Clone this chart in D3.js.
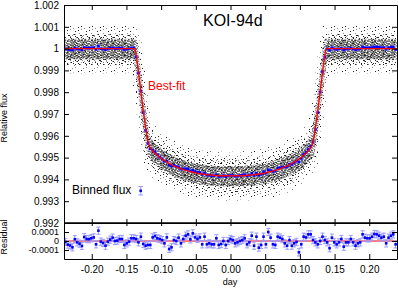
<!DOCTYPE html>
<html>
<head>
<meta charset="utf-8">
<script src="https://cdn.jsdelivr.net/npm/d3@7"></script>
<style>
html, body { margin: 0; padding: 0; background: #fff; }
svg { display: block; font-family: "Liberation Sans", Arial, sans-serif; }
</style>
</head>
<body>
<svg id="chart" width="398" height="292"></svg>
<script>
// best-fit transit model (day, relative flux)
var modelDay = [-0.24, -0.138, -0.136, -0.133, -0.1295, -0.126, -0.1225, -0.119, -0.1155, -0.112,
    -0.105, -0.098, -0.091, -0.084, -0.077, -0.07, -0.063, -0.056, -0.049, -0.042,
    -0.035, -0.028, -0.021, -0.014, -0.007, 0,
    0.007, 0.014, 0.021, 0.028, 0.035, 0.042, 0.049, 0.056, 0.063, 0.07,
    0.077, 0.084, 0.091, 0.098, 0.105, 0.112, 0.1155, 0.119, 0.1225, 0.126,
    0.1295, 0.133, 0.136, 0.138, 0.24];
var modelFlux = [1, 1, 0.9997, 0.9990, 0.9981, 0.9972, 0.9964, 0.9957, 0.99545, 0.9953,
    0.9951, 0.99492, 0.99478, 0.99466, 0.99456, 0.99447, 0.9944, 0.99434, 0.99429, 0.99425,
    0.99422, 0.9942, 0.99418, 0.99417, 0.99417, 0.99416,
    0.99417, 0.99417, 0.99418, 0.9942, 0.99422, 0.99425, 0.99429, 0.99434, 0.9944, 0.99447,
    0.99456, 0.99466, 0.99478, 0.99492, 0.9951, 0.9953, 0.99545, 0.9957, 0.9964, 0.9972,
    0.9981, 0.9990, 0.9997, 1, 1];

// half-width of the raw photometry cloud around the model (dense core, body, sparse edge)
var cloudCore = 0.00045;
var cloudBody = 0.00075;
var cloudEdge = 0.0011;

// binned points
var binDay = [
    -0.2380, -0.2346, -0.2312, -0.2278, -0.2244, -0.2210, -0.2176, -0.2142, -0.2108, -0.2074,
    -0.2040, -0.2006, -0.1972, -0.1938, -0.1904, -0.1870, -0.1836, -0.1802, -0.1768, -0.1734,
    -0.1700, -0.1666, -0.1632, -0.1598, -0.1564, -0.1530, -0.1496, -0.1462, -0.1428, -0.1394,
    -0.1360, -0.1326, -0.1292, -0.1258, -0.1224, -0.1190, -0.1156, -0.1122, -0.1088, -0.1054,
    -0.1020, -0.0986, -0.0952, -0.0918, -0.0884, -0.0850, -0.0816, -0.0782, -0.0748, -0.0714,
    -0.0680, -0.0646, -0.0612, -0.0578, -0.0544, -0.0510, -0.0476, -0.0442, -0.0408, -0.0374,
    -0.0340, -0.0306, -0.0272, -0.0238, -0.0204, -0.0170, -0.0136, -0.0102, -0.0068, -0.0034,
    0,
    0.0034, 0.0068, 0.0102, 0.0136, 0.0170, 0.0204, 0.0238, 0.0272, 0.0306, 0.0340,
    0.0374, 0.0408, 0.0442, 0.0476, 0.0510, 0.0544, 0.0578, 0.0612, 0.0646, 0.0680,
    0.0714, 0.0748, 0.0782, 0.0816, 0.0850, 0.0884, 0.0918, 0.0952, 0.0986, 0.1020,
    0.1054, 0.1088, 0.1122, 0.1156, 0.1190, 0.1224, 0.1258, 0.1292, 0.1326, 0.1360,
    0.1394, 0.1428, 0.1462, 0.1496, 0.1530, 0.1564, 0.1598, 0.1632, 0.1666, 0.1700,
    0.1734, 0.1768, 0.1802, 0.1836, 0.1870, 0.1904, 0.1938, 0.1972, 0.2006, 0.2040,
    0.2074, 0.2108, 0.2142, 0.2176, 0.2210, 0.2244, 0.2278, 0.2312, 0.2346, 0.2380];
var binModel = [
    1, 1, 1, 1, 1, 1, 1, 1, 1, 1,
    1, 1, 1, 1, 1, 1, 1, 1, 1, 1,
    1, 1, 1, 1, 1, 1, 1, 1, 1, 1,
    0.9996, 0.9989, 0.9980, 0.9971, 0.9963, 0.9957, 0.99545, 0.9953, 0.9952, 0.9951,
    0.9950, 0.99493, 0.99486, 0.9948, 0.99474, 0.99469, 0.99464, 0.99459, 0.99454, 0.9945,
    0.99446, 0.99443, 0.9944, 0.99437, 0.99434, 0.99432, 0.9943, 0.99428, 0.99426, 0.99424,
    0.99423, 0.99422, 0.99421, 0.9942, 0.99419, 0.99418, 0.99418, 0.99417, 0.99417, 0.99417,
    0.99416,
    0.99417, 0.99417, 0.99417, 0.99418, 0.99418, 0.99419, 0.9942, 0.99421, 0.99422, 0.99423,
    0.99424, 0.99426, 0.99428, 0.9943, 0.99432, 0.99434, 0.99437, 0.9944, 0.99443, 0.99446,
    0.9945, 0.99454, 0.99459, 0.99464, 0.99469, 0.99474, 0.9948, 0.99486, 0.99493, 0.9950,
    0.9951, 0.9952, 0.9953, 0.99545, 0.9957, 0.9963, 0.9971, 0.9980, 0.9989, 0.9996,
    1, 1, 1, 1, 1, 1, 1, 1, 1, 1,
    1, 1, 1, 1, 1, 1, 1, 1, 1, 1,
    1, 1, 1, 1, 1, 1, 1, 1, 1, 1];
// residual (binned - model), ppm
var binResidPpm = [
    -10, -40, -50, -70, 20, -15, -30, -55, 44, 22,
    20, 30, 40, -37, 115, -7, -22, -52, -7, 15,
    37, 0, 4, 22, 22, -44, -26, -7, 30,
    30, 22, -15, 48, -33, -52, -44, -44, 40, 55,
    30, 22, 10, -26, 40, -89, -70, 10, 0, 37,
    -26, 22, 59, 74, 18, 85, 40, 22,
    40, -37, 48, -37, -26, -37, -37, 30, -44, -33,
    0, -44, 0, 22, 10, -26, -15, 0, 10, 30,
    -37, -15, 59, -52, 48, -74, -44, 48,
    -37, 100, 37, -37, -44, 48, 37, 22, -26, -52,
    10, -52, -26, -10, -126, -37, 48, 40, 74, 74,
    10, -15, -37, 0, 48, 10, -15,
    -80, 37, -15, -37, -15, 22, -63, -15, -15, 22,
    -15, -52, -26, -15, 74, 37, 30, 30, 48, 78,
    74, 59, 37, 48, -26, 37, 59, 74, -37];
var binErrPpm = 40;

var fluxTicks = [0.992, 0.993, 0.994, 0.995, 0.996, 0.997, 0.998, 0.999, 1, 1.001, 1.002];
var residTicks = [-0.0001, 0, 0.0001];
var dayTicks = [-0.2, -0.15, -0.1, -0.05, 0, 0.05, 0.1, 0.15, 0.2];

var FONT = '"Liberation Sans", Arial, sans-serif';
var BLUE = "#0000ff", ERRBLUE = "#9a9aff", RED = "#ff0000";

var svg = d3.select("#chart");
var padL = 64, padR = 397, padT = 5, padMid = 223, padB = 259;

var x = d3.scaleLinear().domain([-0.24, 0.24]).range([padL, padR]);
var y = d3.scaleLinear().domain([0.992, 1.002]).range([padMid, padT]);
var yr = d3.scaleLinear().domain([-0.0002, 0.0002]).range([padB, padMid]);

var defs = svg.append("defs");
defs.append("clipPath").attr("id", "clipMain").append("rect")
    .attr("x", padL).attr("y", padT).attr("width", padR - padL).attr("height", padMid - padT);
defs.append("clipPath").attr("id", "clipRes").append("rect")
    .attr("x", padL).attr("y", padMid).attr("width", padR - padL).attr("height", padB - padMid);

// speckle textures for the raw data cloud
var dotPattern = function(id, size, dots) {
    var p = defs.append("pattern").attr("id", id)
        .attr("patternUnits", "userSpaceOnUse").attr("width", size).attr("height", size);
    p.selectAll("rect").data(dots).enter().append("rect")
        .attr("x", d => d[0]).attr("y", d => d[1])
        .attr("width", 1).attr("height", 1)
        .attr("fill", (d, i) => i % 3 == 0 ? "#888" : "#222");
};
dotPattern("speckCore", 10, [[0,0],[3,0],[6,0],[8,0],[1,1],[4,1],[9,1],[2,2],[5,2],[7,2],
    [0,3],[3,3],[8,3],[1,4],[5,4],[6,4],[9,4],[2,5],[4,5],[7,5],[0,6],[3,6],[6,6],[9,6],
    [1,7],[5,7],[8,7],[2,8],[4,8],[7,8],[9,8],[0,9],[3,9],[6,9]]);
dotPattern("speckBody", 12, [[1,0],[8,1],[4,3],[11,4],[2,6],[7,7],[10,9],[5,10],[0,11]]);
dotPattern("speckEdge", 11, [[2,1],[8,4],[5,8],[0,6]]);

var model = modelDay.map((d, i) => ({day: d, flux: modelFlux[i]}));
var bins = binDay.map((d, i) => ({
    day: d,
    resid: binResidPpm[i] * 1e-6,
    flux: binModel[i] + binResidPpm[i] * 1e-6
}));
var err = binErrPpm * 1e-6;

var band = function(w) {
    return d3.area().curve(d3.curveMonotoneX)
        .x(d => x(d.day))
        .y0(d => y(d.flux - w))
        .y1(d => y(d.flux + w));
};

// each layer drawn twice, nudged sideways, so the steep ingress/egress get some width
var gMain = svg.append("g").attr("clip-path", "url(#clipMain)");
[[cloudEdge, "speckEdge", 4], [cloudBody, "speckBody", 3], [cloudCore, "speckCore", 1.5]].forEach(function(b) {
    [-b[2], b[2]].forEach(function(dx) {
        gMain.append("path").datum(model).attr("d", band(b[0]))
            .attr("transform", "translate(" + dx + "," + (dx > 0 ? 1 : 0) + ")")
            .attr("fill", "url(#" + b[1] + ")");
    });
});

// binned flux with error bars
var drawBins = function(g, yScale, val) {
    var eb = g.append("g").attr("stroke", ERRBLUE).attr("stroke-width", 1);
    bins.forEach(function(d) {
        var cx = x(d.day), y0 = yScale(val(d) - err), y1 = yScale(val(d) + err);
        eb.append("line").attr("x1", cx).attr("x2", cx).attr("y1", y0).attr("y2", y1);
        eb.append("line").attr("x1", cx - 2).attr("x2", cx + 2).attr("y1", y0).attr("y2", y0);
        eb.append("line").attr("x1", cx - 2).attr("x2", cx + 2).attr("y1", y1).attr("y2", y1);
    });
    g.append("g").selectAll("rect").data(bins).enter().append("rect")
        .attr("x", d => x(d.day) - 1.3).attr("y", d => yScale(val(d)) - 1.3)
        .attr("width", 2.6).attr("height", 2.6).attr("fill", BLUE);
};
drawBins(gMain, y, d => d.flux);

gMain.append("path").datum(model)
    .attr("d", d3.line().curve(d3.curveMonotoneX).x(d => x(d.day)).y(d => y(d.flux)))
    .attr("fill", "none").attr("stroke", RED).attr("stroke-width", 1.4);

// residual panel
var gRes = svg.append("g").attr("clip-path", "url(#clipRes)");
gRes.append("line").attr("x1", padL).attr("x2", padR).attr("y1", yr(0)).attr("y2", yr(0))
    .attr("stroke", RED).attr("stroke-width", 1);
drawBins(gRes, yr, d => d.resid);

// axes
var styleAxis = function(g, size) {
    g.attr("font-family", FONT).attr("font-size", size);
    g.selectAll("text").attr("fill", "#000");
    g.selectAll("line").attr("stroke", "#000");
    g.select(".domain").attr("stroke", "#000");
};
svg.append("g").attr("transform", "translate(" + padL + ",0)")
    .call(d3.axisLeft(y).tickValues(fluxTicks).tickFormat(d => String(+d.toFixed(3)))
        .tickSize(-5).tickSizeOuter(0).tickPadding(5))
    .call(styleAxis, 10);
svg.append("g").attr("transform", "translate(" + padR + ",0)")
    .call(d3.axisRight(y).tickValues(fluxTicks).tickFormat("").tickSize(-5).tickSizeOuter(0))
    .call(styleAxis, 10);
svg.append("g").attr("transform", "translate(0," + padT + ")")
    .call(d3.axisTop(x).tickValues(dayTicks).tickFormat("").tickSize(-5).tickSizeOuter(0))
    .call(styleAxis, 10);
svg.append("g").attr("transform", "translate(0," + padMid + ")")
    .call(d3.axisBottom(x).tickValues(dayTicks).tickFormat("").tickSize(-4).tickSizeOuter(0))
    .call(styleAxis, 10);
svg.append("g").attr("transform", "translate(0," + padMid + ")")
    .call(d3.axisTop(x).tickValues(dayTicks).tickFormat("").tickSize(-3).tickSizeOuter(0))
    .call(styleAxis, 10);
svg.append("g").attr("transform", "translate(0," + padB + ")")
    .call(d3.axisBottom(x).tickValues(dayTicks).tickFormat(d => d.toFixed(2))
        .tickSize(-5).tickSizeOuter(0).tickPadding(6.5))
    .call(styleAxis, 10);
svg.append("g").attr("transform", "translate(" + padL + ",0)")
    .call(d3.axisLeft(yr).tickValues(residTicks).tickFormat(d => d === 0 ? "0" : d.toFixed(4))
        .tickSize(-5).tickSizeOuter(0).tickPadding(5))
    .call(styleAxis, 9);
svg.append("g").attr("transform", "translate(" + padR + ",0)")
    .call(d3.axisRight(yr).tickValues(residTicks).tickFormat("").tickSize(-5).tickSizeOuter(0))
    .call(styleAxis, 9);

// panel divider
svg.append("line").attr("x1", padL).attr("x2", padR).attr("y1", padMid).attr("y2", padMid)
    .attr("stroke", "#000").attr("stroke-width", 1.6);

// labels
svg.append("text").attr("x", 203).attr("y", 25.5).attr("font-size", 16).text("KOI-94d");
svg.append("text").attr("x", 148).attr("y", 89.5).attr("font-size", 12).attr("fill", RED).text("Best-fit");
svg.append("text").attr("x", 72).attr("y", 194).attr("font-size", 12).text("Binned flux");

var lg = svg.append("g").attr("stroke", ERRBLUE).attr("stroke-width", 1);
lg.append("line").attr("x1", 140.7).attr("x2", 140.7).attr("y1", 186.5).attr("y2", 195);
lg.append("line").attr("x1", 138.4).attr("x2", 143).attr("y1", 186.5).attr("y2", 186.5);
lg.append("line").attr("x1", 138.4).attr("x2", 143).attr("y1", 195).attr("y2", 195);
svg.append("rect").attr("x", 139.4).attr("y", 189.5).attr("width", 2.6).attr("height", 2.6).attr("fill", BLUE);

svg.append("text").attr("x", 230).attr("y", 285).attr("font-size", 9)
    .attr("text-anchor", "middle").text("day");
svg.append("text").attr("transform", "translate(7,118) rotate(-90)").attr("font-size", 9)
    .attr("text-anchor", "middle").text("Relative flux");
svg.append("text").attr("transform", "translate(7,237) rotate(-90)").attr("font-size", 9)
    .attr("text-anchor", "middle").text("Residual");
</script>
</body>
</html>
